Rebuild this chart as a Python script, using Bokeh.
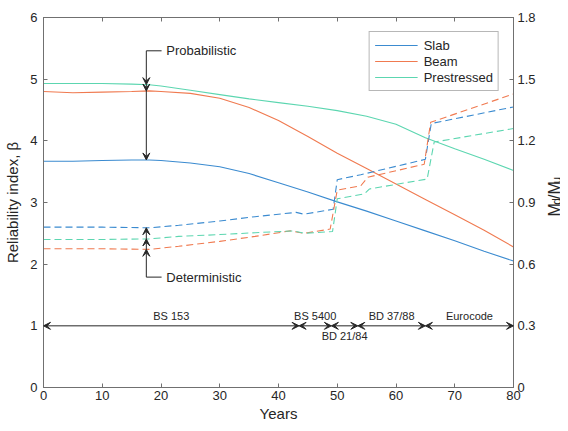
import numpy as np
from bokeh.plotting import figure
from bokeh.layouts import row
from bokeh.core.properties import value
from bokeh.models import (Range1d, LinearAxis, FixedTicker, Arrow, VeeHead, Label,
                          Legend, LegendItem, CustomJSTickFormatter)
from bokeh.embed import file_html
from bokeh.resources import INLINE

# ---------------- data ----------------
years = [0, 5, 10, 15, 18, 20, 25, 30, 35, 40, 45, 50, 55, 60, 65, 70, 75, 80]
slab_beta = [3.67, 3.67, 3.68, 3.69, 3.69, 3.68, 3.64, 3.58, 3.47, 3.32, 3.17, 3.01, 2.86, 2.70, 2.54, 2.38, 2.21, 2.05]
beam_beta = [4.80, 4.78, 4.79, 4.80, 4.81, 4.80, 4.77, 4.69, 4.54, 4.33, 4.07, 3.80, 3.55, 3.30, 3.05, 2.80, 2.55, 2.28]
pres_beta = [4.93, 4.93, 4.93, 4.92, 4.91, 4.89, 4.82, 4.75, 4.68, 4.62, 4.56, 4.49, 4.40, 4.27, 4.05, 3.87, 3.70, 3.52]

slab_md_years = [0, 10, 18, 23, 30, 36, 43, 44.3, 49.3, 50, 54, 65, 66, 80]
slab_md = [0.780, 0.780, 0.777, 0.789, 0.810, 0.831, 0.852, 0.843, 0.867, 1.011, 1.035, 1.110, 1.284, 1.365]
beam_md_years = [0, 10, 18, 23, 30, 36, 42, 44.4, 48.8, 50, 54, 55.2, 64.8, 65.9, 80]
beam_md = [0.675, 0.675, 0.672, 0.687, 0.711, 0.735, 0.762, 0.750, 0.771, 0.960, 0.981, 1.023, 1.086, 1.290, 1.428]
pres_md_years = [0, 10, 18, 23, 30, 36, 42.6, 44.4, 49.2, 50, 54.6, 55.5, 65.3, 66.5, 80]
pres_md = [0.720, 0.720, 0.723, 0.735, 0.744, 0.753, 0.762, 0.750, 0.759, 0.918, 0.942, 0.966, 1.014, 1.194, 1.260]

code_bounds = [0, 43.5, 49, 53.5, 65, 80]
code_names = ["BS 153", "BS 5400", "BD 21/84", "BD 37/88", "Eurocode"]
code_below = [False, False, True, False, False]
code_level = 1.0

x_ticks = [0, 10, 20, 30, 40, 50, 60, 70, 80]
y_ticks = [0, 1, 2, 3, 4, 5, 6]
y2_ticks = [0, 0.3, 0.6, 0.9, 1.2, 1.5, 1.8]

# ---------------- style ----------------
FONT = "Liberation Sans"
TXT = "#262626"
AX = "#707070"
C_SLAB = "#3B8BD0"
C_BEAM = "#F07A50"
C_PRES = "#5CD6B0"

p = figure(frame_width=470, frame_height=370,
           x_range=Range1d(0, 80), y_range=Range1d(0, 6),
           output_backend="svg", toolbar_location=None,
           min_border_left=43, min_border_right=31, min_border_top=17, min_border_bottom=36)
p.extra_y_ranges = {"right": Range1d(0, 1.8)}
p.xgrid.visible = False
p.ygrid.visible = False
p.outline_line_color = AX
p.background_fill_color = "white"
p.border_fill_color = "white"

def style_axis(ax):
    ax.axis_line_color = AX
    ax.major_tick_line_color = AX
    ax.minor_tick_line_color = None
    ax.major_tick_in = 4
    ax.major_tick_out = 0
    ax.major_label_text_font = FONT
    ax.major_label_text_font_size = "13px"
    ax.major_label_text_color = TXT
    ax.axis_label_text_font = FONT
    ax.axis_label_text_font_size = "15px"
    ax.axis_label_text_font_style = "normal"
    ax.axis_label_text_color = TXT

xa = p.xaxis[0]
style_axis(xa)
xa.ticker = FixedTicker(ticks=x_ticks)
xa.axis_label = "Years"
xa.major_label_standoff = 3
xa.axis_label_standoff = 2

ya = p.yaxis[0]
style_axis(ya)
ya.ticker = FixedTicker(ticks=y_ticks)
ya.axis_label = "Reliability index, β"
ya.major_label_standoff = 6
ya.axis_label_standoff = 6

ra = LinearAxis(y_range_name="right")
style_axis(ra)
ra.ticker = FixedTicker(ticks=y2_ticks)
ra.formatter = CustomJSTickFormatter(code="var s = tick.toFixed(1); return s == '0.0' ? '0' : s;")
ra.major_label_standoff = 4
p.add_layout(ra, "right")

ta = LinearAxis()
style_axis(ta)
ta.ticker = FixedTicker(ticks=x_ticks)
ta.formatter = CustomJSTickFormatter(code="return '';")
ta.major_label_text_font_size = "0px"
ta.major_label_standoff = 0
p.add_layout(ta, "above")

# ---------------- curves ----------------
r_slab = p.line(years, slab_beta, line_color=C_SLAB, line_width=1.1)
r_beam = p.line(years, beam_beta, line_color=C_BEAM, line_width=1.1)
r_pres = p.line(years, pres_beta, line_color=C_PRES, line_width=1.1)
p.line(slab_md_years, slab_md, line_color=C_SLAB, line_width=1.1, line_dash="7 4", y_range_name="right")
p.line(beam_md_years, beam_md, line_color=C_BEAM, line_width=1.1, line_dash="7 4", y_range_name="right")
p.line(pres_md_years, pres_md, line_color=C_PRES, line_width=1.1, line_dash="7 4", y_range_name="right")

legend = Legend(items=[LegendItem(label="Slab", renderers=[r_slab]),
                       LegendItem(label="Beam", renderers=[r_beam]),
                       LegendItem(label="Prestressed", renderers=[r_pres])],
                location="top_right", margin=14, padding=5, spacing=0,
                glyph_width=43, glyph_height=16, label_height=16, label_standoff=6,
                label_text_font=FONT, label_text_font_size="13px", label_text_color=TXT,
                border_line_color=AX, border_line_width=1, background_fill_alpha=1)
p.add_layout(legend)

# ---------------- annotations ----------------
def head():
    return VeeHead(size=7, line_color=TXT, fill_color=TXT, line_width=1)

ann_x = 17.5
prob_top = 5.46
det_bot = 1.79
pv = [float(np.interp(ann_x, years, v)) for v in (pres_beta, beam_beta, slab_beta)]
ys = [prob_top] + pv
for a, b in zip(ys[:-1], ys[1:]):
    p.add_layout(Arrow(x_start=ann_x, y_start=a, x_end=ann_x, y_end=b, end=head(),
                       line_color=TXT, line_width=1))
p.segment(x0=[ann_x], y0=[prob_top], x1=[ann_x + 2.6], y1=[prob_top], line_color=TXT, line_width=1)
p.add_layout(Label(x=ann_x + 3.4, y=prob_top, text="Probabilistic", text_font=FONT,
                   text_font_size="13px", text_color=TXT, text_baseline="middle", text_align="left"))

dv = [float(np.interp(ann_x, yy, v)) for yy, v in ((beam_md_years, beam_md), (pres_md_years, pres_md), (slab_md_years, slab_md))]
det_bot_r = det_bot * 0.3
ys = [det_bot_r] + dv
for a, b in zip(ys[:-1], ys[1:]):
    p.add_layout(Arrow(x_start=ann_x, y_start=a, x_end=ann_x, y_end=b, end=head(),
                       line_color=TXT, line_width=1, y_range_name="right"))
p.segment(x0=[ann_x], y0=[det_bot], x1=[ann_x + 2.6], y1=[det_bot], line_color=TXT, line_width=1)
p.add_layout(Label(x=ann_x + 3.4, y=det_bot, text="Deterministic", text_font=FONT,
                   text_font_size="13px", text_color=TXT, text_baseline="middle", text_align="left"))

# code timeline
for i, name in enumerate(code_names):
    a, b = code_bounds[i], code_bounds[i + 1]
    p.add_layout(Arrow(x_start=a, y_start=code_level, x_end=b, y_end=code_level,
                       start=head(), end=head(), line_color=TXT, line_width=1))
    mid = (a + b) / 2
    if code_below[i]:
        p.add_layout(Label(x=mid, y=code_level, y_offset=-4, text=name, text_font=FONT,
                           text_font_size="11px", text_color=TXT, text_baseline="top", text_align="center"))
    else:
        p.add_layout(Label(x=mid, y=code_level, y_offset=4, text=name, text_font=FONT,
                           text_font_size="11px", text_color=TXT, text_baseline="bottom", text_align="center"))

# ---------------- right axis title M_d/M_u in a thin side panel ----------------
side_w, side_h = 16, 423
q = figure(width=side_w, height=side_h, x_range=Range1d(0, side_w), y_range=Range1d(0, side_h),
           x_axis_type=None, y_axis_type=None, output_backend="svg", toolbar_location=None,
           min_border=0)
q.outline_line_color = None
q.xgrid.visible = False
q.ygrid.visible = False
q.background_fill_color = "white"
q.border_fill_color = "white"

base_x, sub_x = 9.5, 12.0
cur = 195.0
parts = [("M", 16, False, 0.833), ("d", 12, True, 0.556), ("/M", 16, False, 1.111), ("u", 12, True, 0.556)]
for t, fs, sub, em in parts:
    q.text(x=[sub_x if sub else base_x], y=[cur], text=[t], angle=np.pi / 2,
           text_font=value(FONT), text_font_size=value(f"{fs}px"), text_color=TXT,
           text_baseline="alphabetic", text_align="left")
    cur += em * fs

layout = row(p, q, spacing=0)
open("out.html", "w").write(file_html(layout, INLINE))
